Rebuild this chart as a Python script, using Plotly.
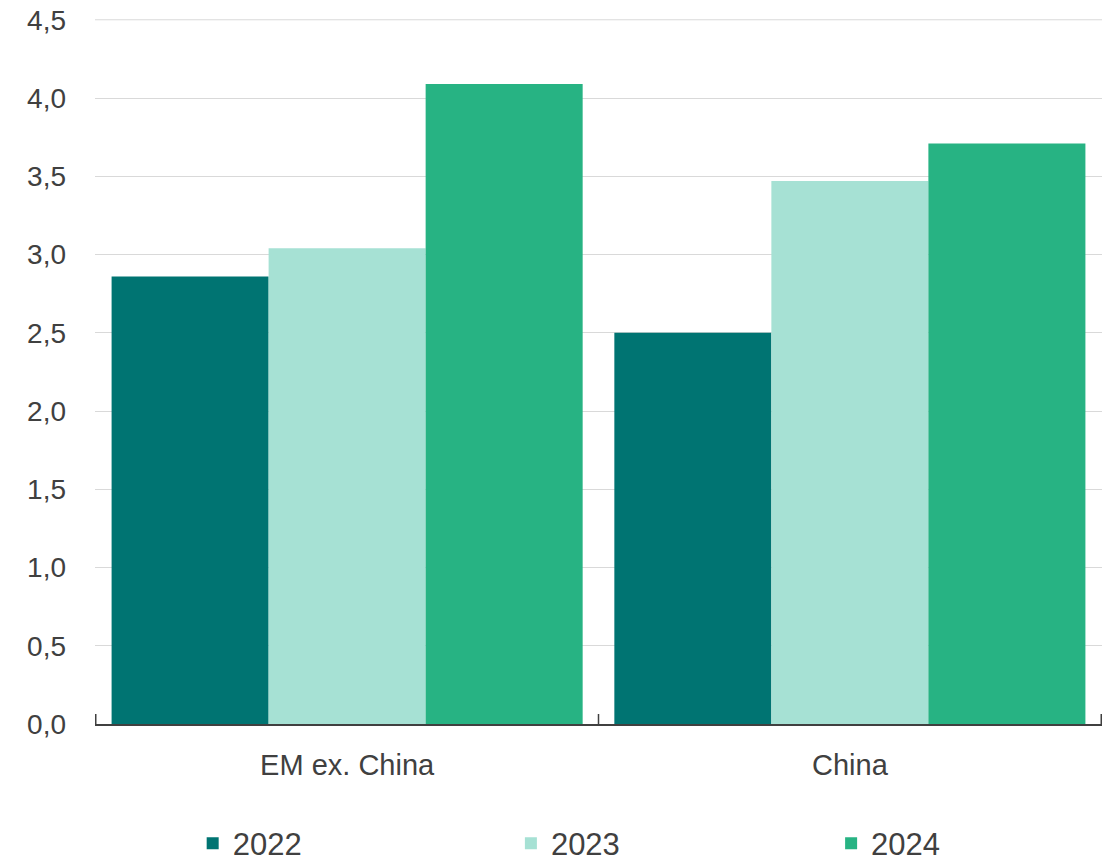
import plotly.graph_objects as go

# Categories and yearly values
categories = ["EM ex. China", "China"]
years = ["2022", "2023", "2024"]
values_2022 = [2.86, 2.50]
values_2023 = [3.04, 3.47]
values_2024 = [4.09, 3.71]
y_ticks = [0.0, 0.5, 1.0, 1.5, 2.0, 2.5, 3.0, 3.5, 4.0, 4.5]
y_tick_labels = ["0,0", "0,5", "1,0", "1,5", "2,0", "2,5", "3,0", "3,5", "4,0", "4,5"]

series = [values_2022, values_2023, values_2024]
colors = ["#007472", "#A6E1D4", "#27B383"]
legend_ids = ["legend", "legend2", "legend3"]
legend_x = [0.097, 0.413, 0.731]

fig = go.Figure()
for year, vals, col, lg in zip(years, series, colors, legend_ids):
    fig.add_trace(go.Bar(
        name=year, x=categories, y=vals, legend=lg, showlegend=True,
        marker=dict(color=col, line=dict(width=0)),
    ))

# Axis ticks crossing the baseline at category boundaries
shapes = []
for xb in [-0.5, 0.5, 1.5]:
    shapes.append(dict(
        type="line", xref="x", yref="y", x0=xb, x1=xb,
        ysizemode="pixel", yanchor=0, y0=-10, y1=10,
        line=dict(color="#404040", width=1.5),
    ))
# Gridline at the top of the value range
shapes.append(dict(
    type="line", xref="x domain", yref="y", x0=0, x1=1,
    y0=y_ticks[-1], y1=y_ticks[-1], layer="below",
    line=dict(color="#d9d9d9", width=1),
))

font_family = "Liberation Sans, Arial, sans-serif"


def legend_box(x):
    return dict(
        orientation="h", x=x, xanchor="left",
        yref="container", y=0.026, yanchor="middle",
        font=dict(size=31, color="#404040"),
        itemwidth=30, bgcolor="rgba(0,0,0,0)",
    )


fig.update_layout(
    width=1119, height=866,
    margin=dict(l=95, r=17, t=19, b=142),
    paper_bgcolor="white", plot_bgcolor="white",
    barmode="group", bargap=0.063, bargroupgap=0,
    font=dict(family=font_family, color="#404040", size=28),
    shapes=shapes,
    showlegend=True,
    legend=legend_box(legend_x[0]),
    legend2=legend_box(legend_x[1]),
    legend3=legend_box(legend_x[2]),
    xaxis=dict(
        showline=True, linecolor="#404040", linewidth=2,
        ticks="", showgrid=False, ticklabelstandoff=14,
        tickfont=dict(size=29, color="#404040"),
        automargin=False,
    ),
    yaxis=dict(
        range=[0, 4.505], tickvals=y_ticks, ticktext=y_tick_labels,
        showgrid=True, gridcolor="#d9d9d9", gridwidth=1,
        zeroline=False, showline=False, ticks="",
        ticklabelstandoff=28,
        tickfont=dict(size=28, color="#404040"),
        automargin=False,
    ),
)

fig.write_html("out.html")
